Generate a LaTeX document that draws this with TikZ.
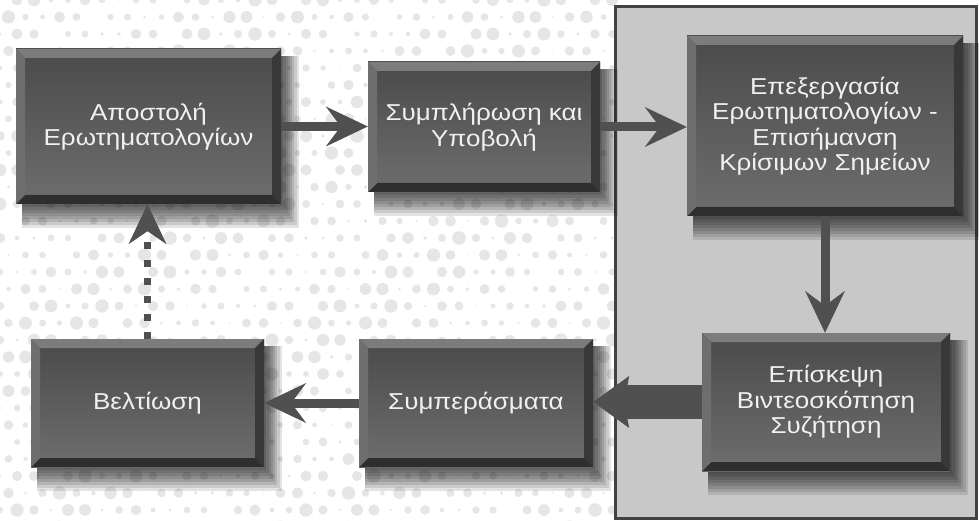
\documentclass[tikz,border=0pt]{standalone}
\usepackage{fontspec}
\setmainfont{Liberation Sans}
\newfontfamily\boxfont[FakeStretch=1.13]{Liberation Sans}
\usepackage{tikz}
\usetikzlibrary{arrows.meta, positioning, calc}
\pgfdeclarelayer{bottom}
\pgfdeclarelayer{shade}
\pgfsetlayers{bottom,shade,main}
\definecolor{bgdot}{RGB}{230,230,230}
\definecolor{facetop}{RGB}{74,74,74}
\definecolor{facebot}{RGB}{110,110,110}
\definecolor{beveltop}{RGB}{124,124,124}
\definecolor{bevelleft}{RGB}{110,110,110}
\definecolor{bevelright}{RGB}{56,56,56}
\definecolor{bevelbot}{RGB}{46,46,46}
\definecolor{flowgray}{RGB}{80,80,80}
\definecolor{panelfill}{RGB}{200,200,200}
\definecolor{panelline}{RGB}{66,66,66}

\begin{document}
\begin{tikzpicture}[x=1pt, y=-1pt,
  bevel/.style={path picture={
    \path (path picture bounding box.north west) coordinate (pNW)
          (path picture bounding box.north east) coordinate (pNE)
          (path picture bounding box.south east) coordinate (pSE)
          (path picture bounding box.south west) coordinate (pSW);
    \path ([shift={(#1,-#1)}]pNW) coordinate (qNW)
          ([shift={(-#1,-#1)}]pNE) coordinate (qNE)
          ([shift={(-#1,#1)}]pSE) coordinate (qSE)
          ([shift={(#1,#1)}]pSW) coordinate (qSW);
    \fill[beveltop] (pNW) -- (pNE) -- (qNE) -- (qNW) -- cycle;
    \fill[bevelright] (pNE) -- (pSE) -- (qSE) -- (qNE) -- cycle;
    \fill[bevelbot] (pSE) -- (pSW) -- (qSW) -- (qSE) -- cycle;
    \fill[bevelleft] (pSW) -- (pNW) -- (qNW) -- (qSW) -- cycle;
  }},
  box/.style={rectangle, inner sep=0pt, align=center, text=white!94!black,
    font=\boxfont\fontsize{23}{25.5}\selectfont,
    top color=facetop, bottom color=facebot, bevel=9pt},
  shadestep/.style={black, opacity=0.11},
  flow/.style={draw=flowgray, line width=9pt,
    -{Stealth[length=42pt, width=40pt, inset=15pt, line width=0pt]}},
  fatflow/.style={draw=flowgray, line width=34pt,
    -{Stealth[length=36pt, width=52pt, inset=5pt, line width=0pt]}},
  dotflow/.style={draw=flowgray, line width=7pt, dash pattern=on 7pt off 11pt,
    -{Stealth[length=40pt, width=38pt, inset=13pt, line width=0pt]}}]
\useasboundingbox (0,0) rectangle (979,521);

\begin{pgfonlayer}{bottom}
\fill[white] (0,0) rectangle (979,521);
% halftone background
\foreach \i in {0,...,36}{
  \foreach \j in {0,...,31}{
    \pgfmathsetmacro\cx{\i*17+mod(\j,2)*8.5}
    \pgfmathsetmacro\cy{\j*17}
    \pgfmathsetmacro\rr{6.8*abs(sin(\i*53+\j*97))*(0.5+0.5*abs(cos(\i*11+\j*17)))}
    \fill[bgdot] (\cx,\cy) circle[radius=\rr pt];
  }
}
% grey panel
\draw[panelline, fill=panelfill, line width=3pt] (615,7) rectangle (976,518);
\end{pgfonlayer}

% top row
\node[box, minimum width=265pt, minimum height=155pt] (send) at (148.5,126.5)
  {Αποστολή\\Ερωτηματολογίων};
\node[box, minimum width=232pt, minimum height=130pt] (submit) at (484,127)
  {Συμπλήρωση και\\Υποβολή};
\node[box, minimum width=276pt, minimum height=180pt] (process) at (825,126)
  {Επεξεργασία\\Ερωτηματολογίων -\\Επισήμανση\\Κρίσιμων Σημείων};

% bottom row
\node[box, minimum width=233pt, minimum height=128pt] (improve) at (147.5,403)
  {Βελτίωση};
\node[box, minimum width=234pt, minimum height=128pt] (results) at (476,403)
  {Συμπεράσματα};
\node[box, minimum width=248pt, minimum height=138pt] (visit) at (826,402)
  {Επίσκεψη\\Βιντεοσκόπηση\\Συζήτηση};

% soft shadows
\begin{pgfonlayer}{shade}
\foreach \n in {send,submit,process,improve,results,visit}{
  \foreach \k in {1,...,8}{
    \fill[shadestep] ([shift={(6,7)}]\n.north west)
      rectangle ([shift={({2.2*\k},{3*\k})}]\n.south east);
  }
}
\end{pgfonlayer}

% arrows
\draw[flow] (send.east) -- (send.east -| submit.west);
\draw[flow] (submit.east) -- (submit.east -| process.west);
\draw[flow] (process.south) -- (process.south |- visit.north);
\draw[fatflow] (visit.west) -- (visit.west -| results.east);
\draw[flow] (results.west) -- (results.west -| improve.east);
\draw[dotflow] (improve.north) -- (improve.north |- send.south);
\end{tikzpicture}
\end{document}
